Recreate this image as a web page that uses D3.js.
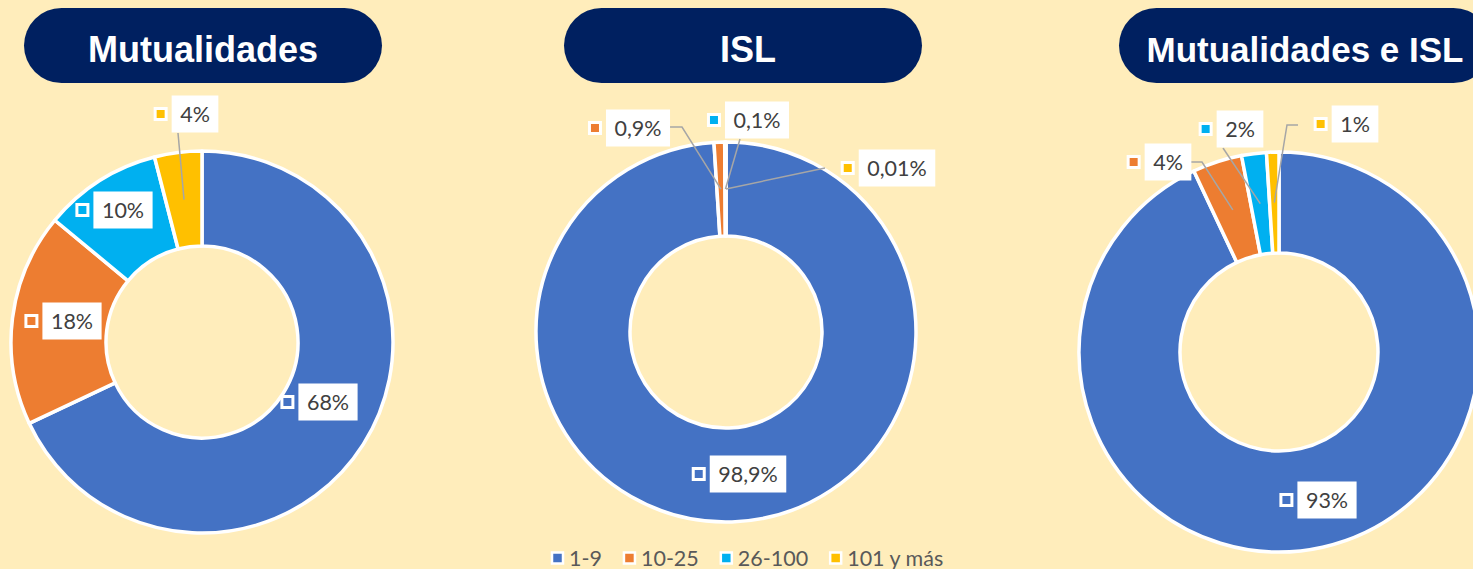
<!DOCTYPE html>
<html>
<head>
<meta charset="utf-8">
<script src="https://cdn.jsdelivr.net/npm/d3@7"></script>
<style>
  html, body { margin: 0; padding: 0; background: #FFEDBB; overflow: hidden; }
  svg { display: block; }
</style>
</head>
<body>
<script>
'use strict';

// data
var categories = ["1-9", "10-25", "26-100", "101 y más"];
var titles = ["Mutualidades", "ISL", "Mutualidades e ISL"];
var mutualidades = [68, 18, 10, 4];
var isl = [98.9, 0.9, 0.1, 0.01];
var ambos = [93, 4, 2, 1];
var labelsMut = ["68%", "18%", "10%", "4%"];
var labelsIsl = ["98,9%", "0,9%", "0,1%", "0,01%"];
var labelsAmbos = ["93%", "4%", "2%", "1%"];
var colors = ["#4472C4", "#ED7D31", "#00B0F0", "#FFC000"];

// layout (box centre + leader points, relative to the donut centre)
var charts = [
   { values: mutualidades, labels: labelsMut, cx: 202, cy: 342, r: 191, ri: 96,
     pillX: 24, pillW: 358,
     pos: [
        { dx: 126, dy: 60 },
        { dx: -130, dy: -21 },
        { dx: -79, dy: -132 },
        { dx: -7, dy: -228, leader: [[-24, -209]] }
     ] },
   { values: isl, labels: labelsIsl, cx: 726, cy: 332, r: 190, ri: 96,
     pillX: 564, pillW: 358,
     pos: [
        { dx: 22, dy: 142 },
        { dx: -88, dy: -204, leader: [[-56, -205], [-44, -205]] },
        { dx: 31, dy: -212, leader: [[14, -193]] },
        { dx: 171, dy: -164, leader: [[99, -164]] }
     ] },
   { values: ambos, labels: labelsAmbos, cx: 1279, cy: 352, r: 200, ri: 99,
     pillX: 1119, pillW: 372,
     pos: [
        { dx: 48, dy: 148 },
        { dx: -111, dy: -190, leader: [[-88, -190], [-77, -190]] },
        { dx: -39, dy: -223, leader: [[-56, -204]] },
        { dx: 76, dy: -228, leader: [[19, -227], [8, -227]] }
     ] }
];

var W = 1473, H = 569;

var svg = d3.select("body").append("svg")
   .attr("width", W)
   .attr("height", H);

svg.append("rect")
   .attr("width", W).attr("height", H)
   .attr("fill", "#FFEDBB");

var pie = d3.pie().sort(null).value(function(d){ return d; });

charts.forEach(function(c, ci){
   // title pill
   var pill = svg.append("g");
   pill.append("rect")
      .attr("x", c.pillX).attr("y", 8)
      .attr("width", c.pillW).attr("height", 75)
      .attr("rx", 37.5).attr("ry", 37.5)
      .attr("fill", "#002060");
   pill.append("text")
      .attr("x", c.pillX + c.pillW / 2 + (ci === 1 ? 5 : 0))
      .attr("y", 62)
      .attr("text-anchor", "middle")
      .attr("font-family", "'Liberation Sans', Arial, sans-serif")
      .attr("font-weight", "bold")
      .attr("font-size", ci === 2 ? 35 : 36)
      .attr("fill", "#ffffff")
      .text(titles[ci]);

   var arc = d3.arc().innerRadius(c.ri).outerRadius(c.r);
   var g = svg.append("g").attr("transform", "translate(" + c.cx + "," + c.cy + ")");

   var arcs = pie(c.values);

   g.selectAll("path.slice")
      .data(arcs)
      .enter()
      .append("path")
      .attr("class", "slice")
      .attr("d", arc)
      .attr("fill", function(d, i){ return colors[i]; })
      .attr("stroke", "#ffffff")
      .attr("stroke-width", 3.5)
      .attr("stroke-linejoin", "round");

   // leader lines
   arcs.forEach(function(d, i){
      var p = c.pos[i];
      if (!p.leader) return;
      var pts = p.leader.concat([arc.centroid(d)]);
      g.append("path")
         .attr("d", d3.line()(pts))
         .attr("fill", "none")
         .attr("stroke", "#A6A6A6")
         .attr("stroke-width", 1.5);
   });

   // data labels
   arcs.forEach(function(d, i){
      var p = c.pos[i];
      var lg = g.append("g").attr("transform", "translate(" + p.dx + "," + p.dy + ")");
      var box = lg.append("rect").attr("fill", "#ffffff");
      var t = lg.append("text")
         .attr("text-anchor", "middle")
         .attr("y", 7.5)
         .attr("font-family", "Lato, 'Open Sans', sans-serif")
         .attr("font-size", 21.5)
         .attr("fill", "#404040")
         .text(c.labels[i]);
      var tw = t.node().getComputedTextLength();
      var bw = tw + 17;
      box.attr("x", -bw / 2).attr("y", -18.5)
         .attr("width", bw).attr("height", 37);
      lg.append("rect")
         .attr("x", -bw / 2 - 11 - 5.5).attr("y", -5.5)
         .attr("width", 11).attr("height", 11)
         .attr("fill", colors[i])
         .attr("stroke", "#ffffff")
         .attr("stroke-width", 3);
   });
});

// legend
var legend = svg.append("g").attr("transform", "translate(0,558)");
var lx = 552;
categories.forEach(function(name, i){
   var item = legend.append("g").attr("transform", "translate(" + lx + ",0)");
   item.append("rect")
      .attr("x", 0).attr("y", -5.5)
      .attr("width", 11).attr("height", 11)
      .attr("fill", colors[i])
      .attr("stroke", "#ffffff")
      .attr("stroke-width", 2.5);
   var t = item.append("text")
      .attr("x", 17)
      .attr("y", 7.5)
      .attr("font-family", "Lato, 'Open Sans', sans-serif")
      .attr("font-size", 21.5)
      .attr("fill", "#595959")
      .text(name);
   lx += 17 + t.node().getComputedTextLength() + 22;
});
</script>
</body>
</html>
